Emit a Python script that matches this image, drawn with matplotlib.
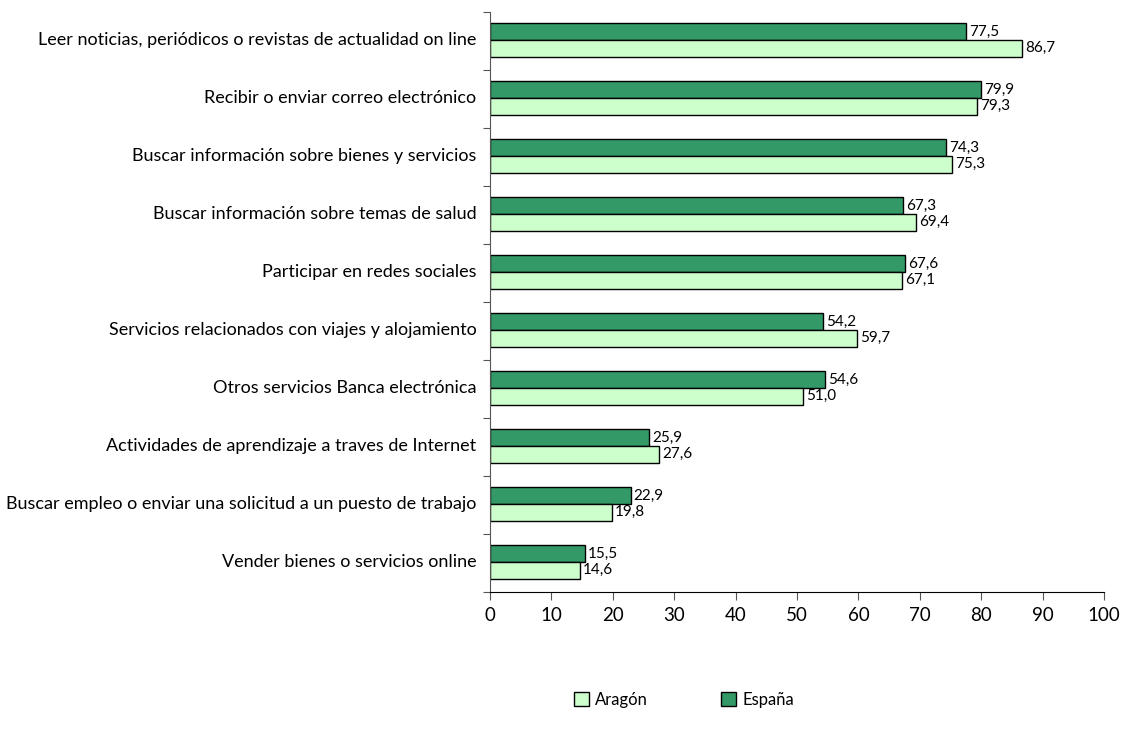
import numpy as np
import matplotlib
matplotlib.use("Agg")
import matplotlib.pyplot as plt

plt.rcParams['font.family'] = ['Lato', 'DejaVu Sans']

# Data (top to bottom as in chart)
categories = [
    "Leer noticias, periódicos o revistas de actualidad on line",
    "Recibir o enviar correo electrónico",
    "Buscar información sobre bienes y servicios",
    "Buscar información sobre temas de salud",
    "Participar en redes sociales",
    "Servicios relacionados con viajes y alojamiento",
    "Otros servicios Banca electrónica",
    "Actividades de aprendizaje a traves de Internet",
    "Buscar empleo o enviar una solicitud a un puesto de trabajo",
    "Vender bienes o servicios online",
]
espana = [77.5, 79.9, 74.3, 67.3, 67.6, 54.2, 54.6, 25.9, 22.9, 15.5]
aragon = [86.7, 79.3, 75.3, 69.4, 67.1, 59.7, 51.0, 27.6, 19.8, 14.6]
xticks = list(range(0, 101, 10))

fig = plt.figure(figsize=(11.21, 7.39), dpi=100)
ax = fig.add_axes([490/1121, 1 - 592/739, 614/1121, 580/739])

n = len(categories)
y = np.arange(n)[::-1]  # first category at top
h = 0.29

ax.barh(y + h/2 + 0.02, espana, height=h, color='#339966', edgecolor='black', linewidth=1, label='España')
ax.barh(y - h/2 + 0.02, aragon, height=h, color='#CCFFCC', edgecolor='black', linewidth=1, label='Aragón')

for yi, v in zip(y, espana):
    ax.text(v + 0.5, yi + h/2 + 0.02, f"{v:.1f}".replace('.', ','), va='center', ha='left', fontsize=11)
for yi, v in zip(y, aragon):
    ax.text(v + 0.5, yi - h/2 + 0.02, f"{v:.1f}".replace('.', ','), va='center', ha='left', fontsize=11)

ax.set_xlim(0, 100)
ax.set_ylim(-0.5, n - 0.5)
ax.set_xticks(xticks)
ax.set_xticklabels([str(t) for t in xticks], fontsize=13.5)
ax.tick_params(axis='x', direction='out', length=6, pad=5, color='#555555')

ax.set_yticks(np.arange(-0.5, n, 1))
ax.set_yticklabels([])
ax.tick_params(axis='y', direction='out', length=5, color='#555555')
for yi, lab in zip(y, categories):
    ax.text(-2.2, yi + 0.02, lab, ha='right', va='center', fontsize=13, transform=ax.transData)

for s in ['top', 'right']:
    ax.spines[s].set_visible(False)
ax.spines['left'].set_color('#555555')
ax.spines['bottom'].set_color('black')

handles, labels = ax.get_legend_handles_labels()
fig.legend(handles[::-1], labels[::-1], loc='center', bbox_to_anchor=(684/1121, 1 - 700/739),
           ncol=2, frameon=False, fontsize=12, handlelength=0.9, handleheight=0.9,
           columnspacing=4.35, handletextpad=0.4)

fig.savefig('out.png', dpi=100)
